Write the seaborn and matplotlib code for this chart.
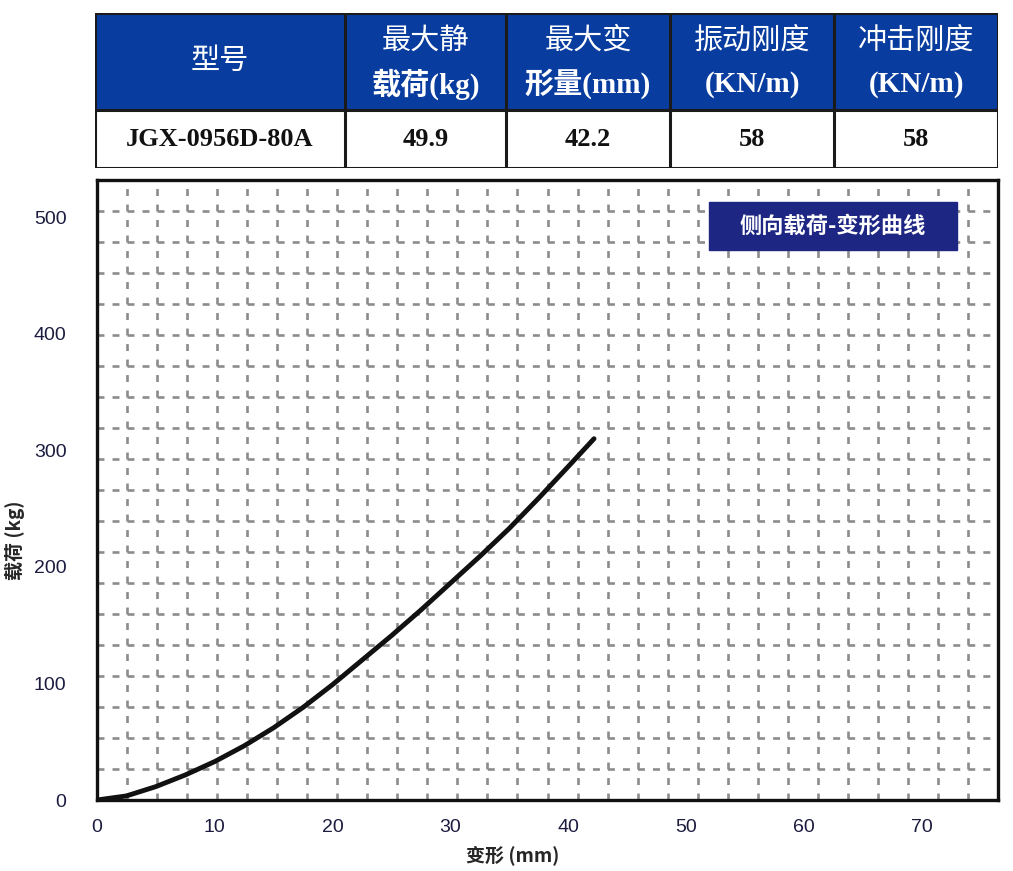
import numpy as np
import pandas as pd
import seaborn as sns
import matplotlib.pyplot as plt
from matplotlib.patches import Rectangle

# --- data ---
table_header_1 = ['型号', '最大静', '最大变', '振动刚度', '冲击刚度']
table_header_2 = ['', '载荷(kg)', '形量(mm)', '(KN/m)', '(KN/m)']
table_values = ['JGX-0956D-80A', '49.9', '42.2', '58', '58']

deform_mm = [0, 2.5, 5, 7.5, 10, 12.5, 15, 17.5, 20, 22.5, 25, 27.5, 30,
             32.5, 35, 37.5, 40, 42.2]
load_kg = [0, 3.5, 11.5, 21.5, 33, 46.5, 62, 79.5, 99, 120, 141, 163, 186,
           209, 233, 259, 286, 310]

x_ticks = [0, 10, 20, 30, 40, 50, 60, 70]
y_ticks = [0, 100, 200, 300, 400, 500]

df = pd.DataFrame({'变形': deform_mm, '载荷': load_kg})

sns.set_style('white')
plt.rcParams['font.family'] = ['Liberation Sans', 'Noto Sans CJK SC', 'DejaVu Sans']
plt.rcParams['lines.scale_dashes'] = False

W, H = 1013, 871
fig = plt.figure(figsize=(W / 100, H / 100), dpi=100)

# --- table on top (pixel coordinates) ---
tx0, tx1, ty0, ty1, ymid = 95, 998, 13, 168, 110
col_edges = [95, 345, 506, 670, 834, 998]
tab = fig.add_axes([tx0 / W, 1 - ty1 / H, (tx1 - tx0) / W, (ty1 - ty0) / H])
tab.set_xlim(tx0, tx1)
tab.set_ylim(ty1, ty0)
tab.axis('off')
tab.add_patch(Rectangle((tx0, ty0), tx1 - tx0, ymid - ty0, color='#083c9e', zorder=1))
for e in col_edges:
    tab.plot([e, e], [ty0, ty1], color='#1a1a1a', lw=2.2, zorder=3, solid_capstyle='butt')
for yy in [ty0, ymid, ty1]:
    tab.plot([tx0, tx1], [yy, yy], color='#1a1a1a', lw=2.2, zorder=3, solid_capstyle='butt')

serif_cjk = ['Liberation Serif', 'Noto Sans CJK SC']
for i in range(5):
    cx = (col_edges[i] + col_edges[i + 1]) / 2
    if table_header_2[i] == '':
        tab.text(cx, 62, table_header_1[i], color='white', fontsize=21,
                 family=serif_cjk, ha='center', va='center', zorder=4)
    else:
        tab.text(cx, 41, table_header_1[i], color='white', fontsize=21,
                 family=serif_cjk, ha='center', va='center', zorder=4)
        tab.text(cx, 84, table_header_2[i], color='white', fontsize=21,
                 family=serif_cjk, fontweight='bold', ha='center', va='center', zorder=4)
    tab.text(cx, 140, table_values[i], color='#111111', fontsize=19,
             family=serif_cjk, fontweight='bold', ha='center', va='center', zorder=4)

# --- load-deformation chart ---
ax_l, ax_r, ax_t, ax_b = 97, 998, 180, 800
ax = fig.add_axes([ax_l / W, 1 - ax_b / H, (ax_r - ax_l) / W, (ax_b - ax_t) / H])
sns.lineplot(data=df, x='变形', y='载荷', ax=ax, color='#111111', linewidth=3.5, zorder=5,
             solid_joinstyle='round', solid_capstyle='round')

xmax, ymax = 76.5, 532
ax.set_xlim(0, xmax)
ax.set_ylim(0, ymax)
ax.set_xticks(x_ticks)
ax.set_yticks(y_ticks)
ax.set_xticks(np.linspace(0, xmax, 31)[1:-1], minor=True)
ax.set_yticks(np.linspace(0, ymax, 21)[1:-1], minor=True)
ax.grid(False, which='major')
ax.xaxis.grid(True, which='minor', color='#8c8c8c', linewidth=1.9,
              linestyle=(0, (5.0, 6.16)))
ax.yaxis.grid(True, which='minor', color='#8c8c8c', linewidth=1.9,
              linestyle=(0, (5.0, 5.81)))
ax.set_axisbelow(True)
ax.tick_params(which='both', length=0)
ax.tick_params(axis='x', pad=14, labelsize=14, labelcolor='#1c1c40')
ax.tick_params(axis='y', pad=22, labelsize=14, labelcolor='#1c1c40')
for s in ax.spines.values():
    s.set_color('#111111')
    s.set_linewidth(2.4)

ax.set_xlabel('变形 (mm)', fontsize=13.7, fontweight='bold', family=['Noto Sans CJK SC'])
ax.set_ylabel('载荷 (kg)', fontsize=13.7, fontweight='bold', family=['Noto Sans CJK SC'])
ax.xaxis.set_label_coords((513 - ax_l) / (ax_r - ax_l), (ax_b - 855) / (ax_b - ax_t))
ax.yaxis.set_label_coords((15 - ax_l) / (ax_r - ax_l), (ax_b - 540) / (ax_b - ax_t))
ax.xaxis.label.set_va('center')
ax.yaxis.label.set_va('center')

# title box
ax.add_patch(Rectangle(((709 - ax_l) / (ax_r - ax_l), (ax_b - 250) / (ax_b - ax_t)),
                       248 / (ax_r - ax_l), 48 / (ax_b - ax_t), transform=ax.transAxes,
                       color='#1d2783', zorder=6))
ax.text((833 - ax_l) / (ax_r - ax_l), (ax_b - 226) / (ax_b - ax_t), '侧向载荷-变形曲线',
        transform=ax.transAxes, ha='center', va='center', color='white',
        fontsize=16, fontweight='bold', family=['Noto Sans CJK SC'], zorder=7)

fig.savefig('out.png', dpi=100)
plt.close(fig)
